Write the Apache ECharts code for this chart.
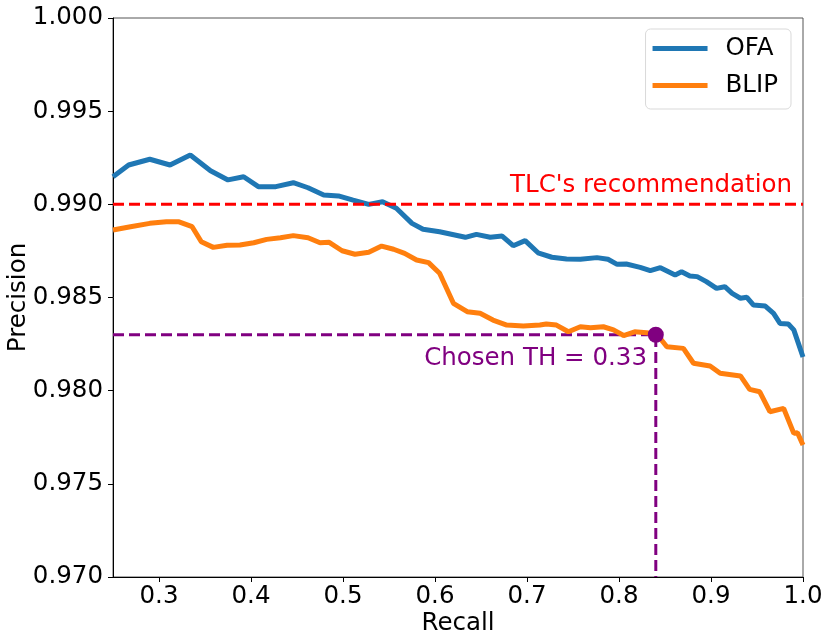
<!DOCTYPE html>
<html>
<head>
<meta charset="utf-8">
<script src="https://cdn.jsdelivr.net/npm/echarts@6/dist/echarts.min.js"></script>
<style>
  html, body { margin: 0; padding: 0; background: #fff; }
  #chart { width: 830px; height: 644px; }
</style>
</head>
<body>
<div id="chart"></div>
<script>
// recall / precision curves
var ofaRecall = [0.250, 0.267, 0.290, 0.312, 0.334, 0.356, 0.375, 0.392, 0.408, 0.427,
  0.446, 0.462, 0.479, 0.495, 0.511, 0.528, 0.543, 0.558, 0.575, 0.587,
  0.605, 0.633, 0.645, 0.660, 0.673, 0.685, 0.698, 0.712, 0.727, 0.743,
  0.758, 0.776, 0.788, 0.798, 0.808, 0.823, 0.834, 0.845, 0.861, 0.868,
  0.877, 0.885, 0.895, 0.906, 0.915, 0.923, 0.932, 0.939, 0.946, 0.959,
  0.968, 0.975, 0.984, 0.990, 0.995, 1.000];
var ofaPrecision = [0.99148, 0.99211, 0.99242, 0.99211, 0.99265, 0.99180, 0.99131, 0.99148, 0.99095, 0.99095,
  0.99116, 0.99089, 0.99050, 0.99045, 0.99023, 0.99000, 0.99014, 0.98979, 0.98898, 0.98866,
  0.98853, 0.98823, 0.98839, 0.98823, 0.98830, 0.98778, 0.98805, 0.98740, 0.98716, 0.98707,
  0.98705, 0.98714, 0.98705, 0.98678, 0.98680, 0.98662, 0.98644, 0.98660, 0.98621, 0.98638,
  0.98615, 0.98612, 0.98585, 0.98549, 0.98558, 0.98522, 0.98496, 0.98501, 0.98460, 0.98454,
  0.98415, 0.98361, 0.98358, 0.98326, 0.98254, 0.98181];

var blipRecall = [0.250, 0.269, 0.290, 0.308, 0.321, 0.336, 0.346, 0.359, 0.374, 0.388,
  0.403, 0.417, 0.432, 0.446, 0.462, 0.475, 0.485, 0.499, 0.513, 0.528,
  0.542, 0.555, 0.567, 0.580, 0.593, 0.605, 0.620, 0.635, 0.649, 0.663,
  0.678, 0.696, 0.714, 0.721, 0.732, 0.745, 0.758, 0.769, 0.783, 0.794,
  0.805, 0.817, 0.830, 0.841, 0.852, 0.870, 0.881, 0.899, 0.910, 0.932,
  0.942, 0.953, 0.964, 0.979, 0.990, 0.994, 1.000];
var blipPrecision = [0.98862, 0.98880, 0.98898, 0.98907, 0.98907, 0.98880, 0.98799, 0.98769, 0.98780, 0.98782,
  0.98794, 0.98812, 0.98821, 0.98832, 0.98821, 0.98794, 0.98796, 0.98751, 0.98732, 0.98743,
  0.98776, 0.98759, 0.98737, 0.98701, 0.98687, 0.98630, 0.98469, 0.98424, 0.98415, 0.98379,
  0.98352, 0.98347, 0.98352, 0.98358, 0.98352, 0.98316, 0.98343, 0.98338, 0.98343, 0.98326,
  0.98296, 0.98316, 0.98311, 0.98304, 0.98236, 0.98227, 0.98147, 0.98132, 0.98093, 0.98079,
  0.98007, 0.97994, 0.97887, 0.97905, 0.97771, 0.97774, 0.97708];

var xTicks = [0.3, 0.4, 0.5, 0.6, 0.7, 0.8, 0.9, 1.0];
var tlcPrecision = 0.990;
var chosenRecall = 0.84;
var chosenPrecision = 0.983;
var tlcLabel = "TLC's recommendation";
var chosenLabel = "Chosen TH = 0.33";

function zip(xs, ys) {
  return xs.map(function (x, i) { return [x, ys[i]]; });
}

var font = "DejaVu Sans";
var fs = 24.5;
var myChart = echarts.init(document.getElementById("chart"), null, { renderer: "canvas" });

var option = {
  animation: false,
  textStyle: { fontFamily: font },
  grid: {
    left: 113, right: 27, top: 18, bottom: 67,
    outerBoundsMode: "none",
    containLabel: false,
    show: true, borderColor: "#555", borderWidth: 1
  },
  legend: {
    data: ["OFA", "BLIP"],
    orient: "vertical",
    right: 39,
    top: 29,
    padding: [7, 13, 11, 7],
    itemGap: 12,
    itemWidth: 55,
    itemHeight: 5,
    icon: "rect",
    borderColor: "#d9d9d9",
    borderWidth: 1,
    borderRadius: 5,
    textStyle: { fontFamily: font, fontSize: fs, color: "#000", padding: [0, 0, 0, 13] }
  },
  xAxis: {
    type: "value",
    min: 0.25,
    max: 1.0,
    name: "Recall",
    nameLocation: "middle",
    nameGap: 34,
    nameMoveOverlap: false,
    nameTextStyle: { fontFamily: font, fontSize: fs, color: "#000" },
    axisLine: { show: true, lineStyle: { color: "#000", width: 1 } },
    axisTick: { show: true, length: 5, lineStyle: { color: "#000" }, customValues: xTicks },
    axisLabel: {
      fontFamily: font, fontSize: fs, color: "#000", margin: 7,
      customValues: xTicks,
      formatter: function (v) { return v.toFixed(1); }
    },
    splitLine: { show: false }
  },
  yAxis: {
    type: "value",
    min: 0.970,
    max: 1.000,
    interval: 0.005,
    name: "Precision",
    nameLocation: "middle",
    nameGap: 82,
    nameMoveOverlap: false,
    nameTextStyle: { fontFamily: font, fontSize: fs, color: "#000" },
    axisLine: { show: true, lineStyle: { color: "#000", width: 1 } },
    axisTick: { show: true, length: 5, lineStyle: { color: "#000" } },
    axisLabel: {
      fontFamily: font, fontSize: fs, color: "#000", margin: 10,
      formatter: function (v) { return v.toFixed(3); }
    },
    splitLine: { show: false }
  },
  series: [
    {
      name: "OFA",
      type: "line",
      data: zip(ofaRecall, ofaPrecision),
      showSymbol: false,
      color: "#1f77b4",
      lineStyle: { width: 5, color: "#1f77b4" },
      z: 3
    },
    {
      name: "BLIP",
      type: "line",
      data: zip(blipRecall, blipPrecision),
      showSymbol: false,
      color: "#ff7f0e",
      lineStyle: { width: 5, color: "#ff7f0e" },
      z: 3
    },
    {
      name: "tlc",
      type: "line",
      data: [[0.25, tlcPrecision], [1.0, tlcPrecision]],
      showSymbol: false,
      lineStyle: { width: 3, color: "#ff0000", type: [11, 5] },
      z: 4
    },
    {
      name: "chosen guide",
      type: "line",
      data: [[0.25, chosenPrecision], [chosenRecall, chosenPrecision], [chosenRecall, 0.970]],
      showSymbol: false,
      lineStyle: { width: 3, color: "#800080", type: [11, 5] },
      z: 2
    },
    {
      name: "chosen",
      type: "scatter",
      data: [[chosenRecall, chosenPrecision]],
      symbolSize: 16,
      itemStyle: { color: "#800080", opacity: 1 },
      z: 5
    },
    {
      name: "labels",
      type: "scatter",
      symbolSize: 0,
      silent: true,
      itemStyle: { opacity: 1 },
      data: [
        { value: [0.988, 0.99101], label: { formatter: tlcLabel, color: "#ff0000" } },
        { value: [0.8304, 0.98170], label: { formatter: chosenLabel, color: "#800080" } }
      ],
      label: {
        show: true,
        position: "inside",
        align: "right",
        verticalAlign: "middle",
        fontFamily: font,
        fontSize: fs
      },
      z: 6
    }
  ]
};

myChart.setOption(option);
window.addEventListener("resize", myChart.resize);
</script>
</body>
</html>
